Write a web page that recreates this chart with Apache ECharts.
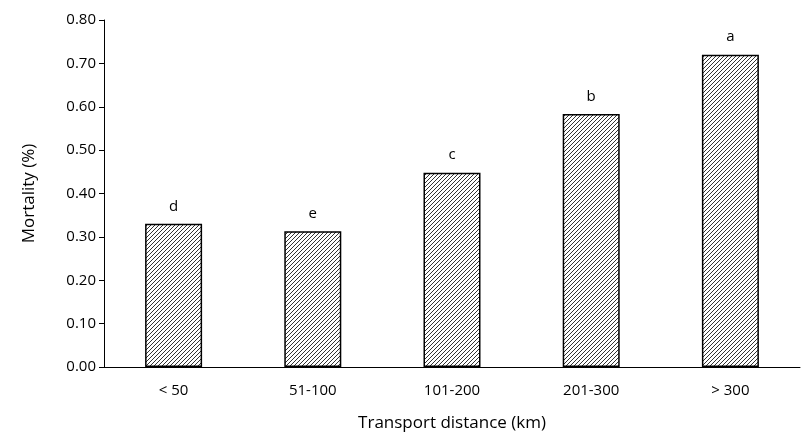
<!DOCTYPE html><html><head><meta charset="utf-8"><script src="https://cdn.jsdelivr.net/npm/echarts@6/dist/echarts.min.js"></script></head><body style="margin:0;background:#fff"><div id="c" style="width:811px;height:443px"></div><script>
const categories=['< 50','51-100','101-200','201-300','> 300'];
const mortality=[0.33,0.313,0.448,0.583,0.72];
const letters=['d','e','c','b','a'];
const yTicks=['0.00','0.10','0.20','0.30','0.40','0.50','0.60','0.70','0.80'];
const cv=document.createElement('canvas');cv.width=4;cv.height=4;
const g=cv.getContext('2d');g.fillStyle='#fff';g.fillRect(0,0,4,4);g.strokeStyle='#333';g.lineWidth=1;
g.beginPath();g.moveTo(0,4);g.lineTo(4,0);g.moveTo(-1,1);g.lineTo(1,-1);g.moveTo(3,5);g.lineTo(5,3);g.stroke();
const ch=echarts.init(document.getElementById('c'));
ch.setOption({animation:false,
grid:{left:104,right:11,top:20,bottom:76},
xAxis:{type:'category',data:categories,axisTick:{show:false},axisLine:{lineStyle:{color:'#000'}},
 axisLabel:{color:'#000',fontSize:15,fontFamily:'Open Sans',margin:16},
 name:'Transport distance (km)',nameLocation:'middle',nameGap:48,nameTextStyle:{fontSize:17,color:'#000',fontFamily:'Open Sans'}},
yAxis:{type:'value',min:0,max:0.8,interval:0.1,splitLine:{show:false},axisLine:{show:true,lineStyle:{color:'#000'}},
 axisTick:{show:true,length:5,lineStyle:{color:'#000'}},
 axisLabel:{color:'#000',fontSize:15,fontFamily:'Open Sans',formatter:(v)=>yTicks[Math.round(v*10)]},
 name:'Mortality (%)',nameLocation:'middle',nameGap:66,nameTextStyle:{fontSize:17,color:'#000',fontFamily:'Open Sans'}},
series:[{type:'bar',data:mortality,barWidth:57,
 itemStyle:{color:{image:cv,repeat:'repeat'},borderColor:'#000',borderWidth:1.5},
 label:{show:true,position:'top',distance:10,fontSize:15,color:'#000',fontFamily:'Open Sans',formatter:(p)=>letters[p.dataIndex]}}]
});
</script></body></html>
